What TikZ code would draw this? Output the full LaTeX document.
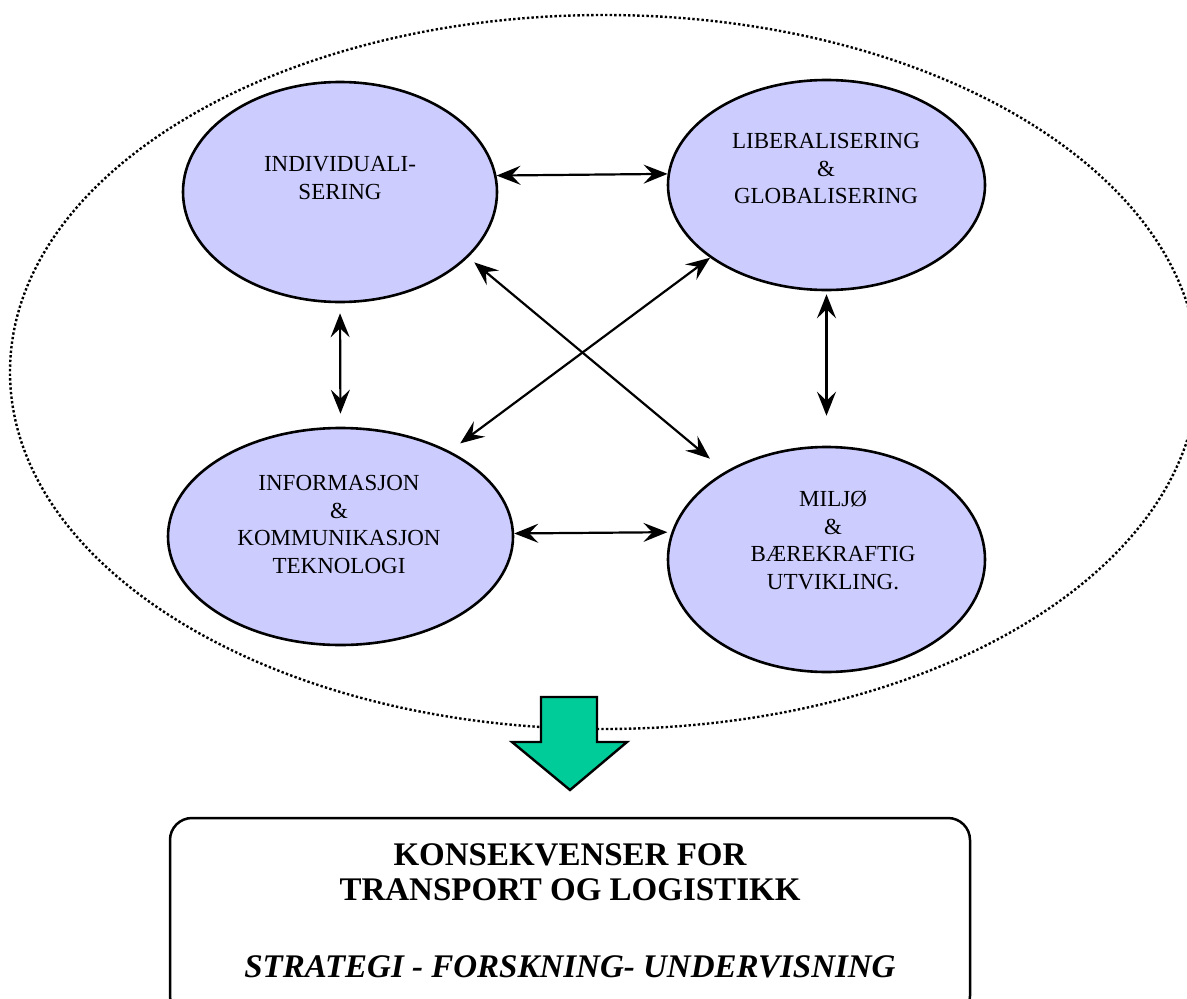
\documentclass[tikz,border=0pt]{standalone}
\usepackage{fontspec}
\setmainfont{Liberation Serif}
\usetikzlibrary{arrows.meta,shapes.geometric}
\definecolor{bubblefill}{RGB}{204,204,255}
\definecolor{flowgreen}{RGB}{0,204,153}
\begin{document}
\begin{tikzpicture}[x=1pt,y=-1pt,
  bubble/.style={ellipse,draw,line width=2.6pt,fill=bubblefill,inner sep=0pt},
  bubbletext/.style={font=\fontsize{23}{27.5}\selectfont,align=center,inner sep=0pt},
  link/.style={line width=2.2pt,{Stealth[length=24pt,width=19pt,inset=9pt]}-{Stealth[length=24pt,width=19pt,inset=9pt]}},
  titletext/.style={font=\fontsize{33}{35}\selectfont\bfseries,align=center,inner sep=0pt}]
\useasboundingbox (0,0) rectangle (1187,999);

% surrounding dotted boundary
\draw[line width=2.4pt, dash pattern=on 2.4pt off 2.2pt] (604,372) ellipse [x radius=594, y radius=357];

% the four driving forces
\node[bubble,minimum width=314pt,minimum height=220pt] (A) at (340,192) {};
\node[bubble,minimum width=317pt,minimum height=210pt] (B) at (826.5,185) {};
\node[bubble,minimum width=345pt,minimum height=217pt] (C) at (340.5,536.5) {};
\node[bubble,minimum width=317pt,minimum height=225pt] (D) at (826.5,559.5) {};

\node[bubbletext] (Atext) at (340,178) {INDIVIDUALI-\\SERING};
\node[bubbletext] (Btext) at (826,168.5) {LIBERALISERING\\\&\\GLOBALISERING};
\node[bubbletext] (Ctext) at (339,524.5) {INFORMASJON\\\&\\KOMMUNIKASJON\\TEKNOLOGI};
\node[bubbletext] (Dtext) at (833,540.5) {MILJØ\\\&\\BÆREKRAFTIG\\UTVIKLING.};

% mutual influences
\draw[link] (A.6.5) -- (B.176.7);
\draw[link, shorten <=10pt, shorten >=13pt] (A.south) -- (C.north);
\draw[link, shorten <=3pt, shorten >=30pt] (B.south) -- (D.north);
\draw[link, shorten >=4pt] (C.1.3) -- (D.170);
\draw[link, shorten <=8pt, shorten >=20pt] (A.-27.8) -- (D.139.2);
\draw[link, shorten >=13pt] (B.-148.5) -- (C.38.8);

% downward block arrow
\draw[line width=2.4pt, fill=flowgreen, line join=miter]
  (541,697) -- (597,697) -- (597,742) -- (627,742) -- (570,790)
  -- (512,742) -- (541,742) -- cycle;

% consequences box
\node[draw, line width=2.5pt, rounded corners=22pt, minimum width=800pt, minimum height=200pt, inner sep=0pt] (box) at (570,918) {};
\node[titletext] (title) at (570,872.5) {KONSEKVENSER FOR\\TRANSPORT OG LOGISTIKK};
\node[titletext, font=\fontsize{33}{35}\selectfont\bfseries\itshape] (sub) at (570,967) {STRATEGI - FORSKNING- UNDERVISNING};
\end{tikzpicture}
\end{document}
